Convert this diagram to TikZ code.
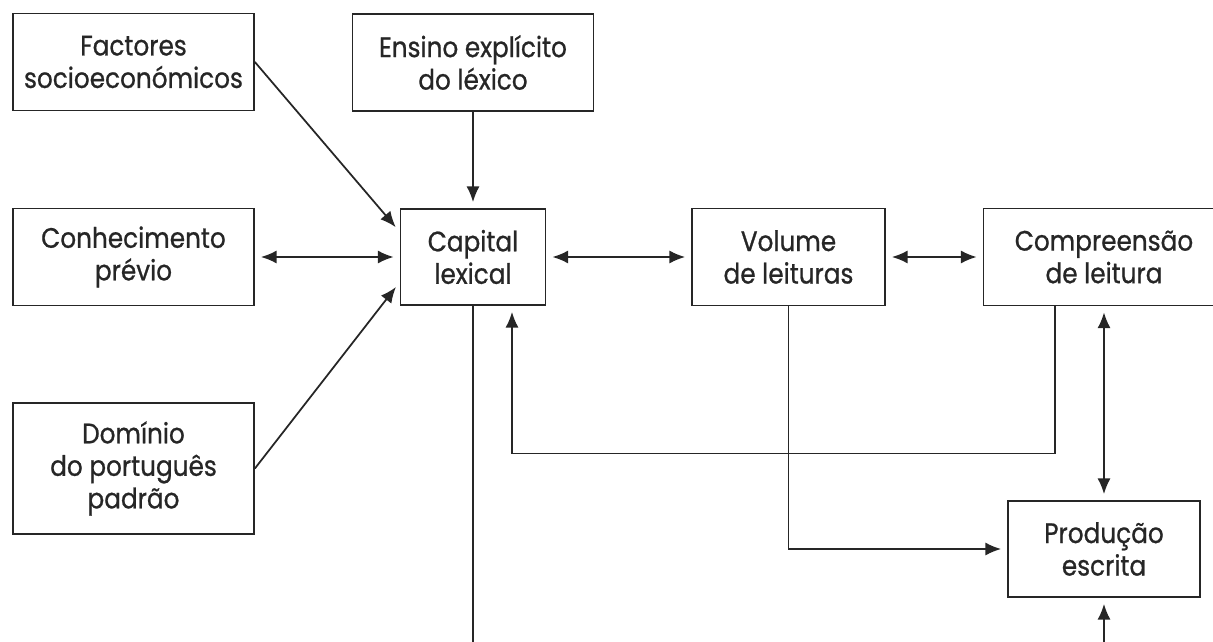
\documentclass[tikz,border=0pt]{standalone}
\usepackage{fontspec}
\setmainfont{Poppins}[FakeStretch=0.88, FakeBold=0.8]
\usepackage{tikz}
\usetikzlibrary{arrows.meta, positioning}

\begin{document}
\begin{tikzpicture}[line width=1pt, color=black!85,
  arro/.style = {-{Latex[length=9pt,width=7.5pt]}, shorten >=0.12cm},
  dbl/.style = {{Latex[length=9pt,width=7.5pt]}-{Latex[length=9pt,width=7.5pt]}, shorten >=0.12cm, shorten <=0.12cm}]

\tikzstyle{format} = [draw, align=center, inner sep=0pt, font=\fontsize{16}{18.5}\selectfont]
\tikzstyle{wide} = [format, minimum width=4.82cm, minimum height=1.94cm]

\useasboundingbox (0,0) rectangle (24.26,-12.82);
\clip (0,0) rectangle (24.26,-12.82);

% inputs
\node[wide] at (2.67,-1.24) (fac) {Factores\\socioeconómicos};
\node[wide] at (9.46,-1.25) (ens) {Ensino explícito\\do léxico};
\node[wide] at (2.67,-5.14) (con) {Conhecimento\\prévio};
\node[wide, minimum height=2.62cm] at (2.67,-9.37) (dom) {Domínio\\do português\\padrão};
% centre
\node[format, minimum width=2.9cm, minimum height=1.92cm] at (9.46,-5.14) (cap) {Capital\\lexical};
% connections
\draw[arro] (fac.east) -- (cap.161);
\draw[arro] (ens.south) -- (cap.north);
\draw[dbl] (con.east) -- (cap.west);
\draw[arro] (dom.east) -- (cap.199);
% outputs
\node[format, minimum width=3.86cm, minimum height=1.94cm] at (15.77,-5.14) (vol) {Volume\\de leituras};
\node[wide] at (22.08,-5.14) (comp) {Compreensão\\de leitura};
\node[format, minimum width=3.84cm, minimum height=1.92cm] at (22.08,-10.98) (prod) {Produção\\escrita};
% connections
\draw[dbl] (cap.east) -- (vol.west);
\draw[dbl] (vol.east) -- (comp.west);
\draw[dbl] (comp.south) -- (prod.north);
\draw[arro] ([xshift=-0.98cm]comp.south) -- ++(0,-2.94) -| ([xshift=0.78cm]cap.south);
\draw[arro] (vol.south) |- (prod.west);
% open ends
\coordinate (capout) at (9.46,-13);
\coordinate (prodin) at (22.08,-13);
\draw (cap.south) -- (capout);
\draw[arro] (prodin) -- (prod.south);
\end{tikzpicture}
\end{document}
